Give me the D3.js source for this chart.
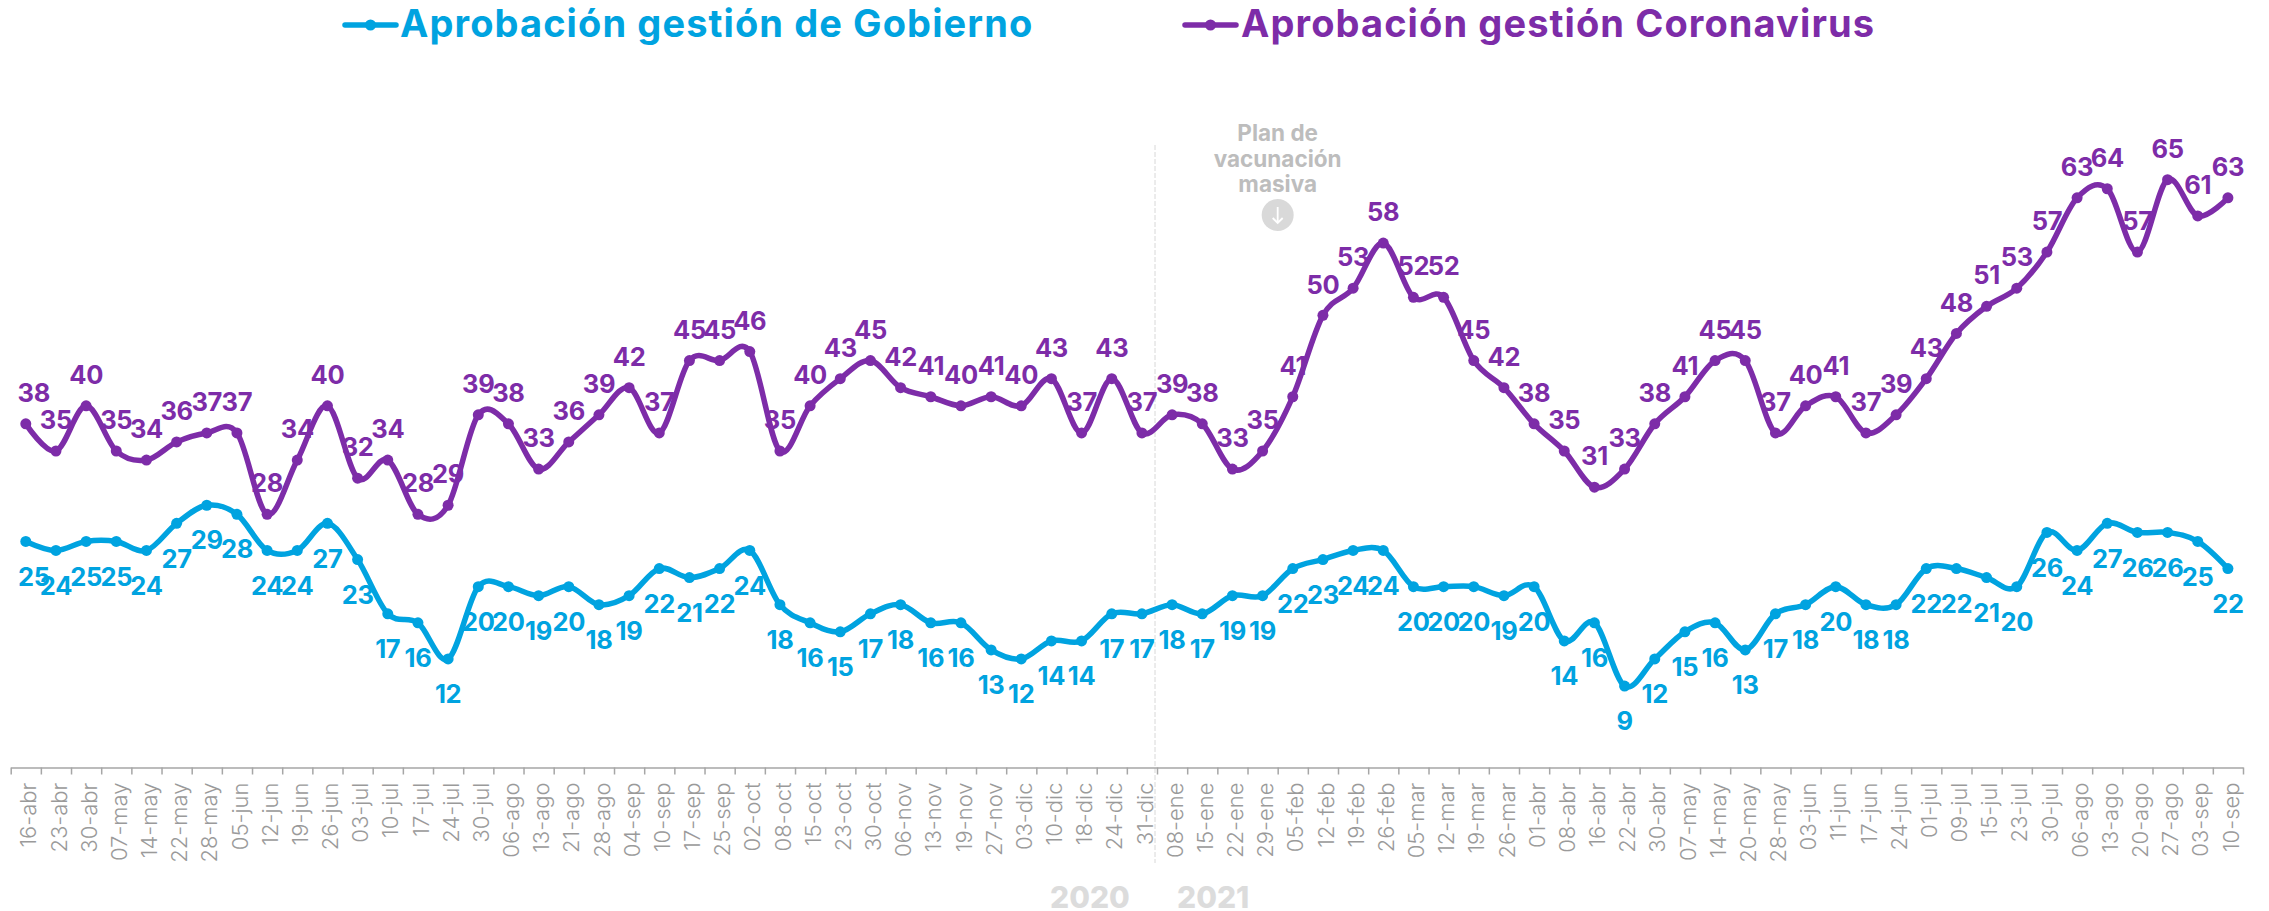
<!DOCTYPE html>
<html lang="es">
<head>
    <meta charset="UTF-8">
    <script src="https://cdnjs.cloudflare.com/ajax/libs/d3/7.8.5/d3.min.js"></script>
    <title>Aprobación gestión</title>
    <style>
        html, body { margin: 0; background: #fff; }
        svg { display: block; }
        text { font-family: Inter, "Noto Sans", sans-serif; }
        .legend-label { font-size: 38px; font-weight: 700; letter-spacing: 1.1px; }
        .value-label { font-size: 25.5px; font-weight: 700; letter-spacing: -0.3px; text-anchor: middle; }
        .date-label { font-size: 22px; font-weight: 300; fill: #9a9a9a; }
        .year-label { font-size: 30px; font-weight: 800; fill: #dcdcdc; }
        .note { font-size: 22.5px; font-weight: 700; fill: #bdbdbd; text-anchor: middle; }
    </style>
</head>
<body>
    <div id="chart"></div>

    <script>
        const dates = ["16-abr","23-abr","30-abr","07-may","14-may","22-may","28-may","05-jun","12-jun","19-jun","26-jun","03-jul","10-jul","17-jul","24-jul","30-jul","06-ago","13-ago","21-ago","28-ago","04-sep","10-sep","17-sep","25-sep","02-oct","08-oct","15-oct","23-oct","30-oct","06-nov","13-nov","19-nov","27-nov","03-dic","10-dic","18-dic","24-dic","31-dic","08-ene","15-ene","22-ene","29-ene","05-feb","12-feb","19-feb","26-feb","05-mar","12-mar","19-mar","26-mar","01-abr","08-abr","16-abr","22-abr","30-abr","07-may","14-may","20-may","28-may","03-jun","11-jun","17-jun","24-jun","01-jul","09-jul","15-jul","23-jul","30-jul","06-ago","13-ago","20-ago","27-ago","03-sep","10-sep"];
        const gobierno = [25,24,25,25,24,27,29,28,24,24,27,23,17,16,12,20,20,19,20,18,19,22,21,22,24,18,16,15,17,18,16,16,13,12,14,14,17,17,18,17,19,19,22,23,24,24,20,20,20,19,20,14,16,9,12,15,16,13,17,18,20,18,18,22,22,21,20,26,24,27,26,26,25,22];
        const coronavirus = [38,35,40,35,34,36,37,37,28,34,40,32,34,28,29,39,38,33,36,39,42,37,45,45,46,35,40,43,45,42,41,40,41,40,43,37,43,37,39,38,33,35,41,50,53,58,52,52,45,42,38,35,31,33,38,41,45,45,37,40,41,37,39,43,48,51,53,57,63,64,57,65,61,63];
        const noteLines = ["Plan de", "vacunación", "masiva"];

        const width = 2269, height = 911;
        const BLUE = "#00a3e0", PURPLE = "#7d2ca8";

        const svg = d3.select("#chart").append("svg")
            .attr("width", width)
            .attr("height", height);

        // scales
        const xBand = d3.scaleBand().domain(dates.map((d, i) => i)).range([10.7, 2243]);
        const x = i => xBand(i) + xBand.bandwidth() / 2;
        const xEdge = d3.scaleLinear().domain([0, dates.length]).range(xBand.range());
        const y = d3.scaleLinear().domain([0, 70]).range([767.5, 134.5]);

        // divider between years
        svg.append("line")
            .attr("x1", xEdge(38) - 2).attr("x2", xEdge(38) - 2)
            .attr("y1", 145).attr("y2", 863)
            .attr("stroke", "#e6e6e6")
            .attr("stroke-width", 1.5)
            .attr("stroke-dasharray", "5,2");

        // x axis: ticks on the band edges, labels in the band centres
        svg.append("g")
            .attr("transform", `translate(0,${y(0)})`)
            .call(d3.axisBottom(xEdge).tickValues(d3.range(dates.length + 1)).tickFormat("").tickSize(7).tickSizeOuter(0))
            .call(g => g.selectAll("path, line").attr("stroke", "#a6a6a6").attr("stroke-width", 1.5));

        const labelAxis = svg.append("g")
            .attr("transform", `translate(0,${y(0)})`)
            .call(d3.axisBottom(xBand).tickFormat(i => dates[i]).tickSize(0));
        labelAxis.select("path").remove();
        labelAxis.selectAll("text")
            .attr("class", "date-label")
            .attr("text-anchor", "end")
            .attr("transform", "rotate(-90)")
            .attr("x", -15)
            .attr("y", 3)
            .attr("dy", "0.35em");

        // series
        const line = d3.line()
            .x((d, i) => x(i))
            .y(d => y(d))
            .curve(d3.curveCardinal.tension(0));

        function drawSeries(values, color, labelOffset) {
            const g = svg.append("g");
            g.append("path")
                .datum(values)
                .attr("d", line)
                .attr("fill", "none")
                .attr("stroke", color)
                .attr("stroke-width", 5.5);
            g.selectAll("circle")
                .data(values)
                .join("circle")
                .attr("cx", (d, i) => x(i))
                .attr("cy", d => y(d))
                .attr("r", 5.5)
                .attr("fill", color);
            g.selectAll("text")
                .data(values)
                .join("text")
                .attr("class", "value-label")
                .attr("x", (d, i) => x(i) + (i === 0 ? 8 : 0))
                .attr("y", d => y(d) + labelOffset)
                .attr("dy", "0.36em")
                .attr("fill", color)
                .text(d => d);
        }

        drawSeries(coronavirus, PURPLE, -31);
        drawSeries(gobierno, BLUE, 35);

        // legend
        function legendItem(x0, x1, textX, label, color) {
            const g = svg.append("g");
            g.append("line")
                .attr("x1", x0).attr("x2", x1)
                .attr("y1", 25).attr("y2", 25)
                .attr("stroke", color)
                .attr("stroke-width", 5.5)
                .attr("stroke-linecap", "round");
            g.append("circle")
                .attr("cx", (x0 + x1) / 2).attr("cy", 25).attr("r", 5.5)
                .attr("fill", color);
            g.append("text")
                .attr("class", "legend-label")
                .attr("x", textX).attr("y", 37)
                .attr("fill", color)
                .text(label);
        }
        legendItem(345, 396, 400, "Aprobación gestión de Gobierno", BLUE);
        legendItem(1185, 1236, 1241, "Aprobación gestión Coronavirus", PURPLE);

        // annotation
        const noteX = xEdge(42);
        svg.selectAll(".note")
            .data(noteLines)
            .join("text")
            .attr("class", "note")
            .attr("x", noteX)
            .attr("y", (d, i) => 141 + i * 25.5)
            .text(d => d);
        svg.append("circle")
            .attr("cx", noteX).attr("cy", 215).attr("r", 16)
            .attr("fill", "#d9d9d9");
        svg.append("path")
            .attr("d", `M${noteX},207V223M${noteX - 5},218L${noteX},223L${noteX + 5},218`)
            .attr("fill", "none")
            .attr("stroke", "#fff")
            .attr("stroke-width", 1.8);

        // years
        svg.append("text").attr("class", "year-label").attr("x", 1050).attr("y", 908).text("2020");
        svg.append("text").attr("class", "year-label").attr("x", 1177).attr("y", 908).text("2021");
    </script>
</body>
</html>
